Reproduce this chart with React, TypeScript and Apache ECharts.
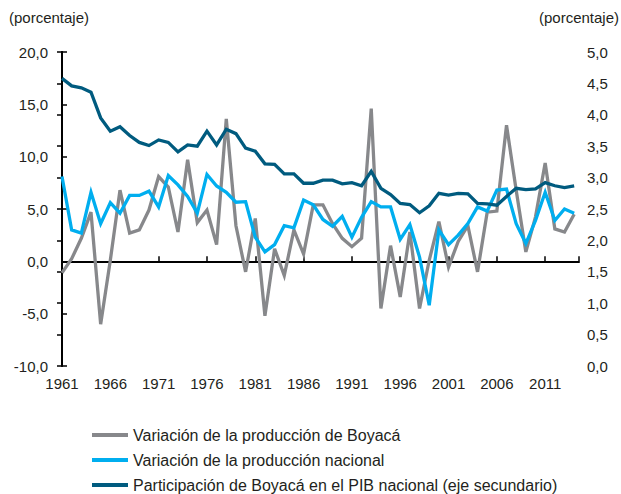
import React, { useEffect, useRef } from "react";
import * as echarts from "echarts";

const startYear = 1961;
const xTickLabels = ["1961", "1966", "1971", "1976", "1981", "1986", "1991", "1996", "2001", "2006", "2011"];

const boyacaGrowth = [
  -1.1, 0.25, 2.2, 4.7, -6.0, 0.1, 6.8, 2.7, 3.0, 4.9,
  8.1, 7.1, 2.8, 9.7, 3.7, 4.9, 1.6, 13.6, 3.4, -1.0,
  4.1, -5.2, 1.2, -1.35, 3.0, 0.7, 5.4, 5.4, 3.6, 2.2,
  1.4, 2.2, 14.6, -4.5, 1.5, -3.4, 2.8, -4.5, 0.1, 3.8,
  -0.55, 1.9, 3.4, -1.0, 4.7, 4.8, 13.0, 6.8, 0.9, 4.25,
  9.4, 3.1, 2.8, 4.5,
];

const nationalGrowth = [
  8.1, 3.0, 2.7, 6.6, 3.6, 5.6, 4.6, 6.3, 6.3, 6.7,
  5.2, 8.2, 7.3, 6.2, 4.6, 8.3, 7.2, 6.6, 5.65, 5.7,
  2.3, 0.9, 1.6, 3.4, 3.2, 5.85, 5.4, 4.0, 3.35, 4.3,
  2.3, 4.2, 5.7, 5.2, 5.2, 2.1, 3.5, 0.4, -4.2, 3.0,
  1.6, 2.5, 3.6, 5.2, 4.8, 6.8, 6.9, 3.6, 1.7, 3.9,
  6.6, 3.9, 5.0, 4.6,
];

const boyacaShare = [
  4.58, 4.46, 4.43, 4.36, 3.95, 3.74, 3.81, 3.67, 3.56, 3.51,
  3.6, 3.56, 3.41, 3.52, 3.5, 3.74, 3.52, 3.77, 3.7, 3.47,
  3.42, 3.22, 3.21, 3.06, 3.06, 2.91, 2.91, 2.96, 2.96, 2.9,
  2.92, 2.87, 3.1, 2.83, 2.73, 2.59, 2.57, 2.44, 2.55, 2.75,
  2.72, 2.75, 2.74, 2.59, 2.58, 2.56, 2.7, 2.83, 2.81, 2.82,
  2.92, 2.87, 2.84, 2.87,
];

const seriesNames = [
  "Variación de la producción de Boyacá",
  "Variación de la producción nacional",
  "Participación de Boyacá en el PIB nacional (eje secundario)",
];
const seriesColors = ["#87888b", "#00aeef", "#005b7f"];

const FONT = "'Liberation Sans', Arial, Helvetica, sans-serif";
const TEXT = "#231f20";

const fmt = (v: number) => v.toFixed(1).replace(".", ",");
const toPairs = (arr: number[]) => arr.map((v, i) => [i, v]);

export default function App() {
  const ref = useRef<HTMLDivElement>(null);
  useEffect(() => {
    document.body.style.margin = "0";
    if (!ref.current) return;
    const chart = echarts.init(ref.current, null, { renderer: "svg" });
    const axisLine = { show: true, lineStyle: { color: "#000", width: 2 } };
    const tick = { show: true, inside: true, length: 5, lineStyle: { color: "#000", width: 1.5 } };
    const labelStyle = { color: TEXT, fontSize: 15, fontFamily: FONT };
    chart.setOption({
      animation: false,
      grid: { left: 62, right: 42, top: 52, bottom: 128, containLabel: false },
      graphic: [
        { type: "text", left: 9, top: 10, style: { text: "(porcentaje)", fill: TEXT, fontSize: 15, fontFamily: FONT } },
        { type: "text", right: 2, top: 10, style: { text: "(porcentaje)", fill: TEXT, fontSize: 15, fontFamily: FONT } },
      ],
      legend: {
        orient: "vertical",
        left: 92,
        top: 427,
        height: 70,
        padding: 0,
        icon: "rect",
        itemWidth: 36,
        itemHeight: 4,
        itemGap: 9,
        data: seriesNames,
        textStyle: { color: TEXT, fontSize: 16, fontFamily: FONT, lineHeight: 16 },
      },
      xAxis: [
        {
          type: "value",
          min: 0,
          max: 53.5,
          interval: 5,
          axisLine: { ...axisLine, onZero: true, onZeroAxisIndex: 0 },
          axisTick: tick,
          axisLabel: { show: false },
          splitLine: { show: false },
        },
        {
          type: "value",
          position: "bottom",
          min: 0,
          max: 53.5,
          interval: 5,
          axisLine: { show: false, onZero: false },
          axisTick: { show: false },
          axisLabel: {
            ...labelStyle,
            margin: 10,
            formatter: (v: number) => (v % 5 === 0 ? xTickLabels[v / 5] ?? String(startYear + v) : ""),
          },
          splitLine: { show: false },
        },
      ],
      yAxis: [
        {
          type: "value",
          min: -10,
          max: 20,
          interval: 5,
          axisLine,
          axisTick: tick,
          axisLabel: { ...labelStyle, margin: 14, formatter: fmt },
          splitLine: { show: false },
        },
        {
          type: "value",
          position: "right",
          min: 0,
          max: 5,
          interval: 0.5,
          axisLine,
          axisTick: tick,
          axisLabel: { ...labelStyle, margin: 8, formatter: fmt },
          splitLine: { show: false },
        },
      ],
      series: [
        { name: seriesNames[0], data: toPairs(boyacaGrowth), yAxisIndex: 0 },
        { name: seriesNames[1], data: toPairs(nationalGrowth), yAxisIndex: 0 },
        { name: seriesNames[2], data: toPairs(boyacaShare), yAxisIndex: 1 },
      ].map((s, k) => ({
        ...s,
        type: "line",
        xAxisIndex: 0,
        showSymbol: false,
        symbol: "none",
        color: seriesColors[k],
        lineStyle: { width: 3.3, color: seriesColors[k], join: "miter" },
      })),
    });
    return () => chart.dispose();
  }, []);
  return <div ref={ref} style={{ width: 621, height: 494 }} />;
}
